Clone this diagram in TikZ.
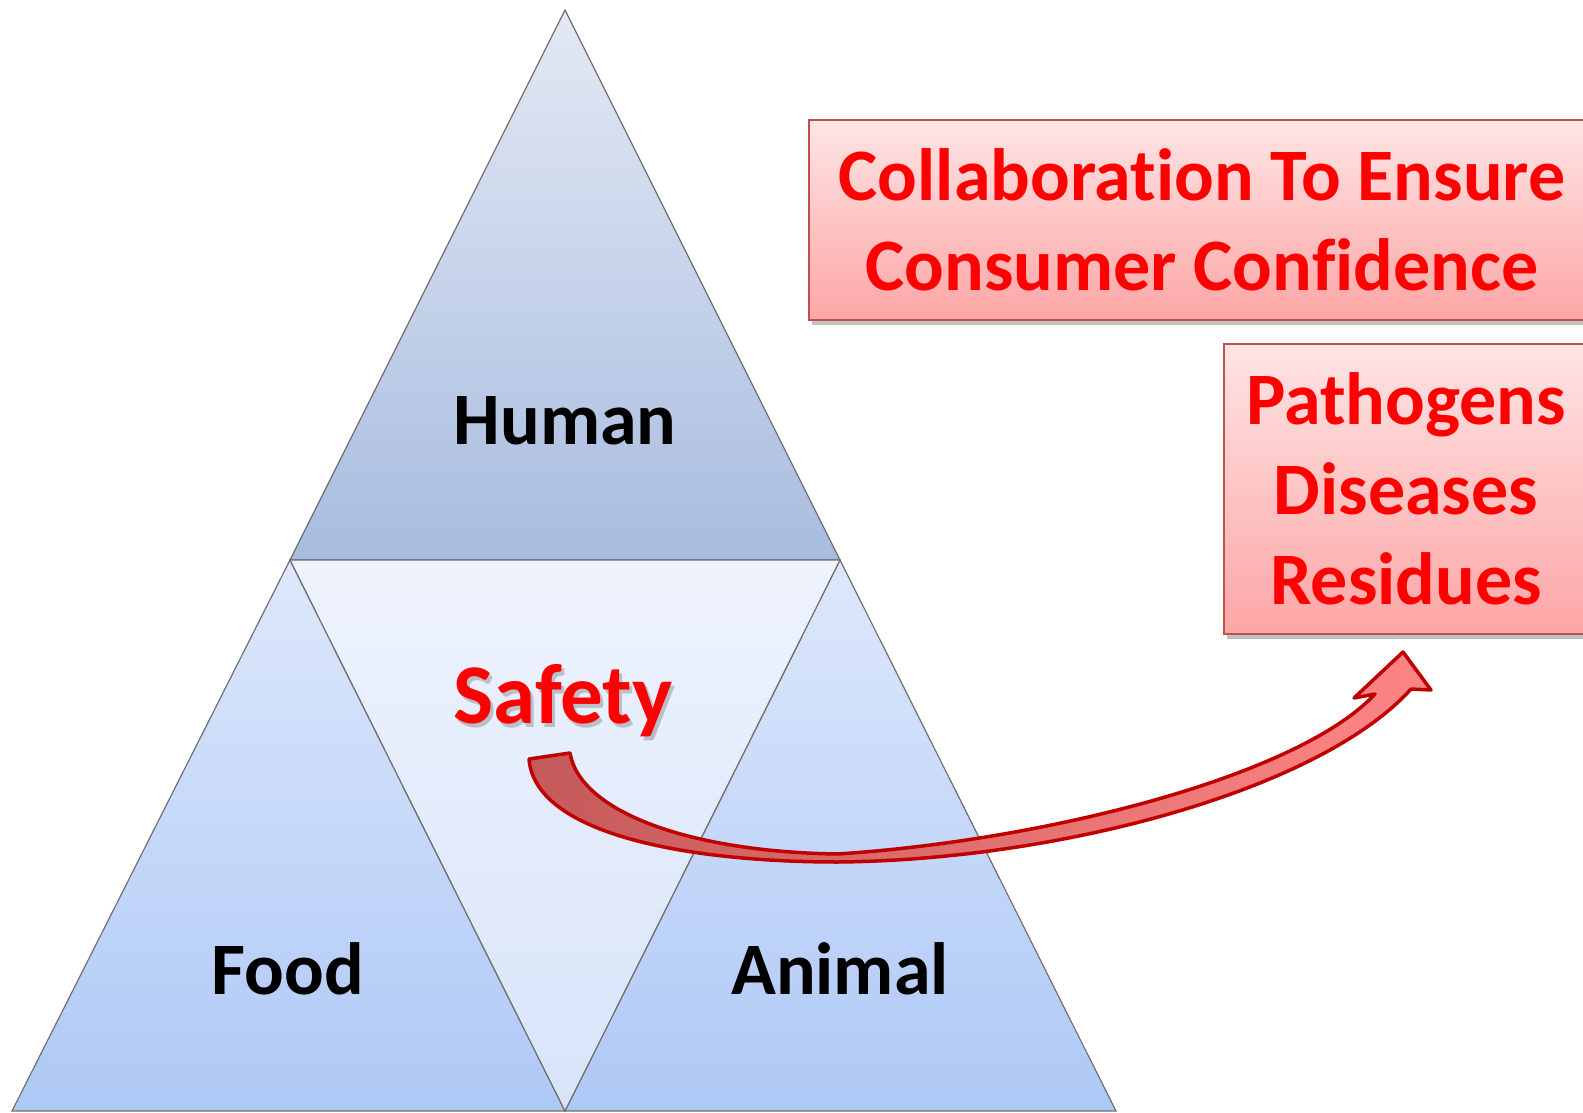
\documentclass[tikz,border=0pt]{standalone}
\usepackage{fontspec}
\setmainfont[Ligatures=NoCommon]{Carlito}
\usetikzlibrary{shadows}

\definecolor{edgegray}{HTML}{707070}
\definecolor{humantop}{HTML}{E3E9F4}
\definecolor{humanbot}{HTML}{A8BCDF}
\definecolor{sidetop}{HTML}{DDE8FB}
\definecolor{sidebot}{HTML}{AEC8F6}
\definecolor{midtop}{HTML}{EEF3FD}
\definecolor{midbot}{HTML}{D8E4FA}
\definecolor{boxred}{HTML}{C0504D}
\definecolor{boxtop}{HTML}{FEE4E4}
\definecolor{boxbot}{HTML}{FDA6A6}
\definecolor{arrowdark}{HTML}{C55A5A}
\definecolor{arrowlight}{HTML}{FF8585}
\definecolor{arrowedge}{HTML}{C00000}

\begin{document}
\begin{tikzpicture}[
  x=1pt, y=-1pt,
  tri/.style={draw=edgegray, line width=1.2pt},
  tag/.style={anchor=base, font=\fontsize{74}{88}\selectfont\bfseries},
  box/.style={draw=boxred, line width=2pt, top color=boxtop, bottom color=boxbot,
    align=center, text=red, font=\fontsize{74}{90}\selectfont\bfseries,
    drop shadow={shadow xshift=3pt, shadow yshift=-5pt, opacity=.35, fill=black!70}},
  bendarrow/.style={draw=arrowedge, line width=3.5pt, line join=round,
    left color=arrowdark, right color=arrowlight}
]
\clip (0,0) rectangle (1583,1113);

% Corners of the pyramid
\coordinate (apex) at (565,10);
\coordinate (midL) at (290,560);
\coordinate (midR) at (840,560);
\coordinate (botL) at (12,1111);
\coordinate (botM) at (565,1111);
\coordinate (botR) at (1116,1111);

% Faces
\path[tri, top color=humantop, bottom color=humanbot] (apex) -- (midR) -- (midL) -- cycle;
\path[tri, top color=sidetop, bottom color=sidebot] (midL) -- (botM) -- (botL) -- cycle;
\path[tri, top color=sidetop, bottom color=sidebot] (midR) -- (botR) -- (botM) -- cycle;
\path[tri, top color=midtop, bottom color=midbot] (midL) -- (midR) -- (botM) -- cycle;

% Labels
\node[tag] (human) at (565,444) {Human};
\node[tag] (food) at (288,994) {Food};
\node[tag] (animal) at (840,994) {Animal};
\node[tag, font=\fontsize{85}{96}\selectfont\bfseries, text=black, opacity=.2] (safetyshade) at (566,727) {Safety};
\node[tag, font=\fontsize{85}{96}\selectfont\bfseries, text=red] (safety) at (563,723) {Safety};

% Boxes
\node[box, minimum width=786, minimum height=200] (collab) at (1202,220) {Collaboration To Ensure\\Consumer Confidence};
\node[box, minimum width=364, minimum height=290] (risks) at (1406,489) {Pathogens\\Diseases\\Residues};

% Curved arrow
\coordinate (tailL) at (529,759);
\coordinate (tailR) at (570,753);
\coordinate (lowB) at (838,862);
\coordinate (upB) at (838,854);
\coordinate (neckL) at (1375,694);
\coordinate (neckR) at (1411,689);
\coordinate (barbL) at (1354,698);
\coordinate (barbR) at (1431,690);
\coordinate (tip) at (1403,652);
\path[bendarrow] (tailL) .. controls (535,835) and (690,862) .. (lowB)
  .. controls (1060,860) and (1320,790) .. (neckR) -- (barbR) -- (tip) -- (barbL) -- (neckL)
  .. controls (1300,775) and (1050,840) .. (upB)
  .. controls (690,852) and (580,812) .. (tailR) -- cycle;
\end{tikzpicture}
\end{document}
